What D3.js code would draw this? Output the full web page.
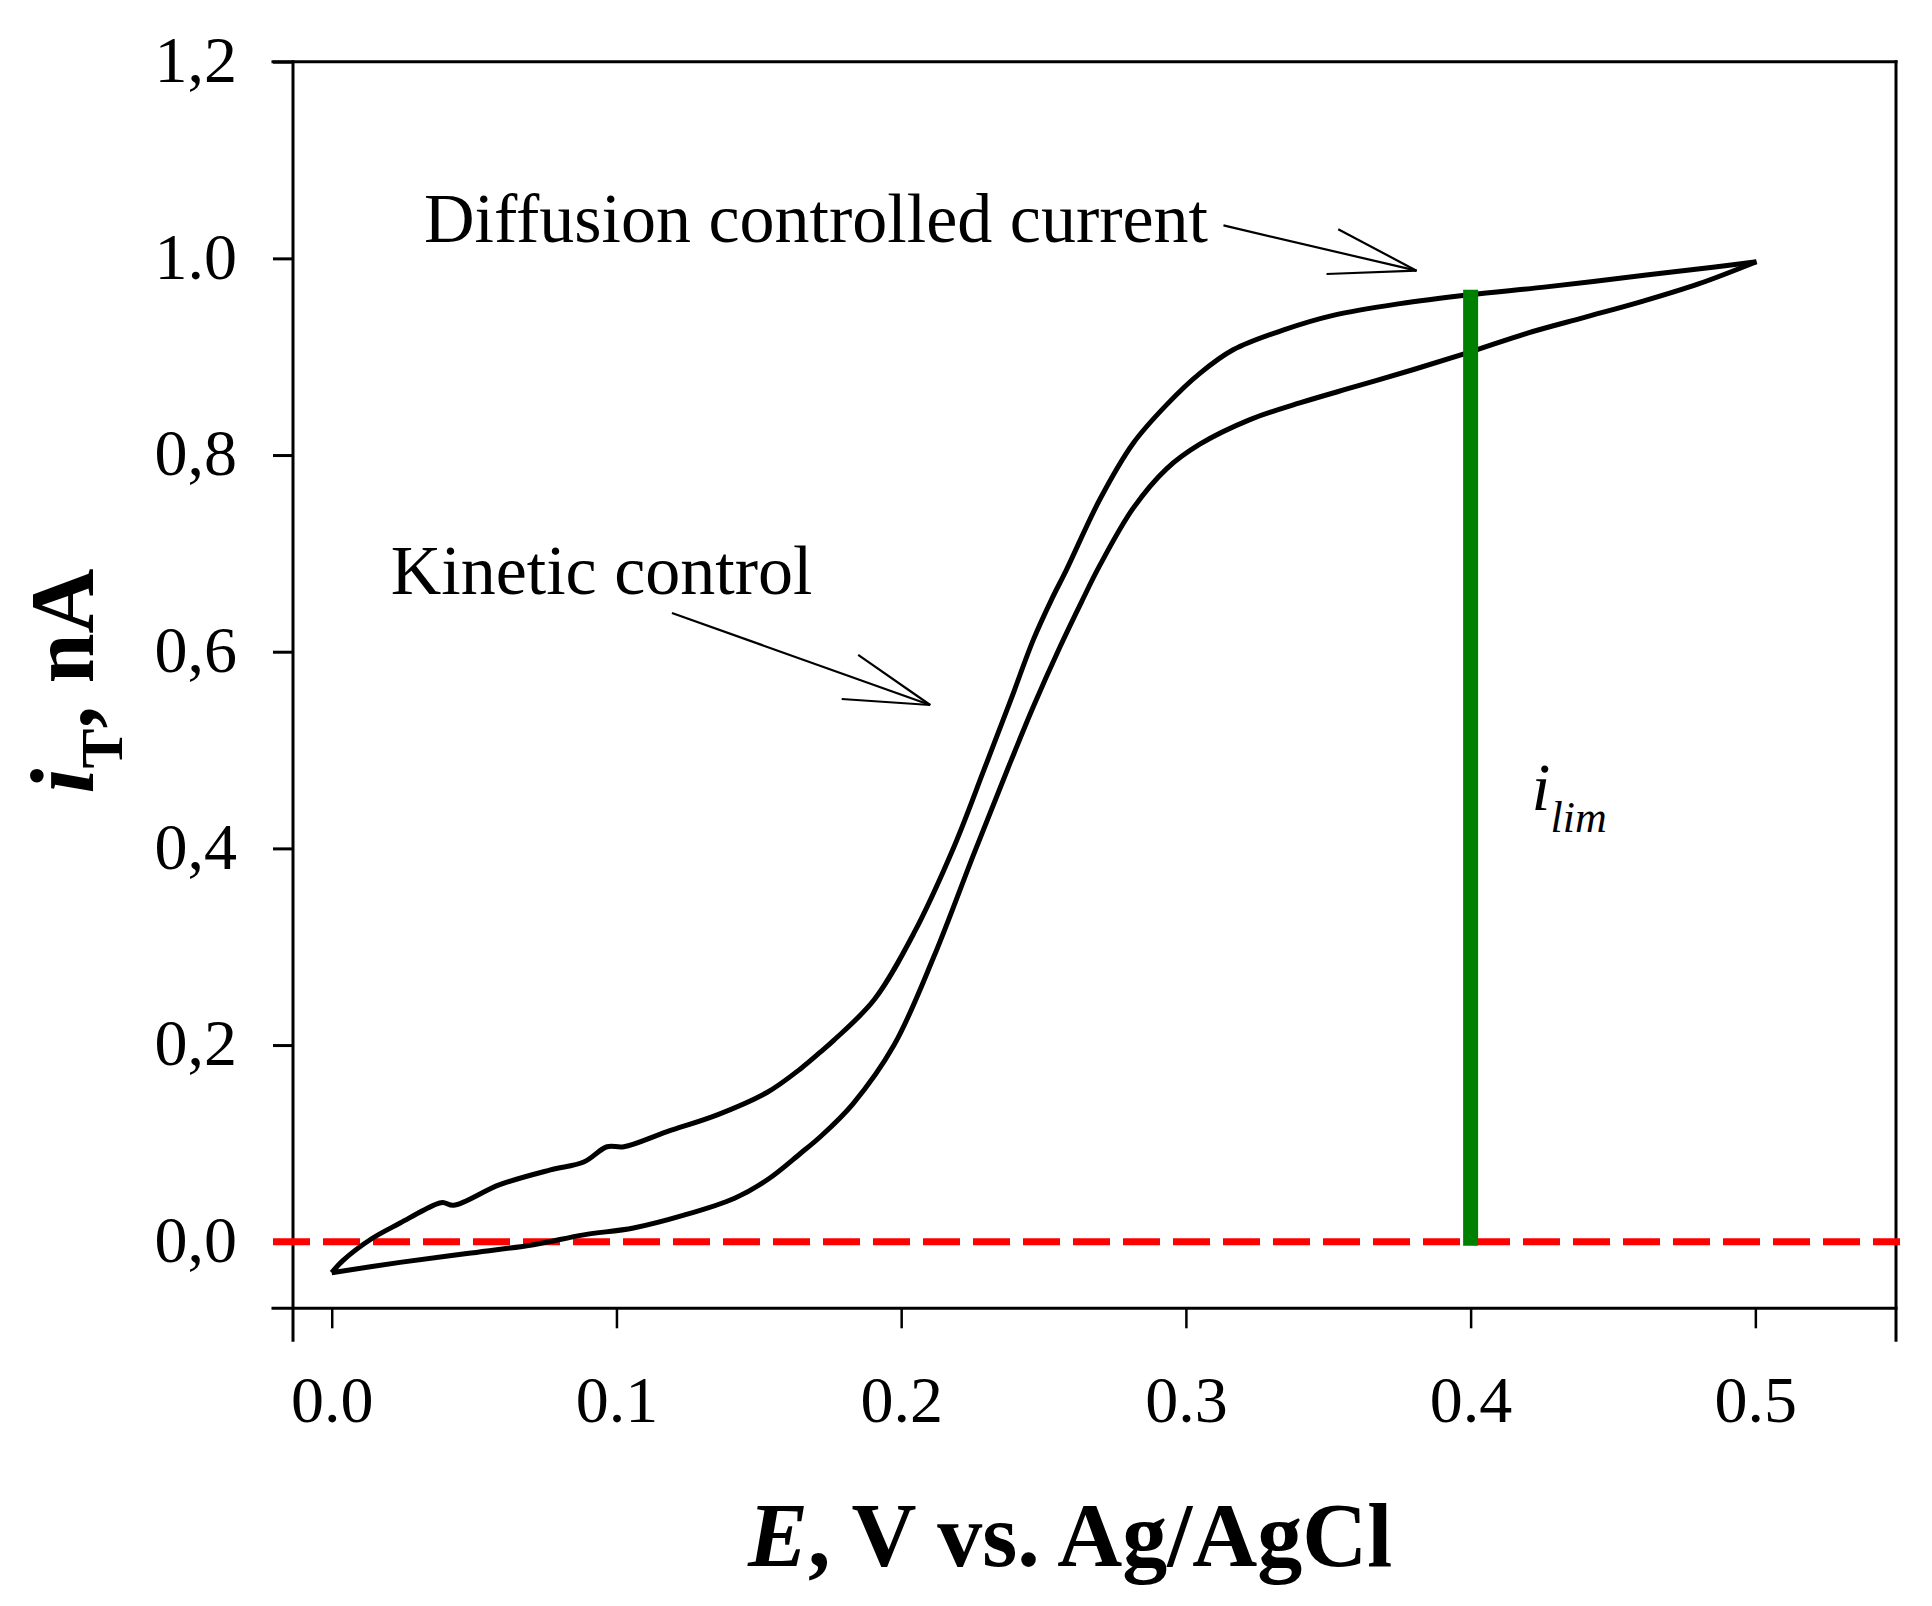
<!DOCTYPE html>
<html><head><meta charset="utf-8">
<script src="https://cdn.jsdelivr.net/npm/d3@7"></script>
<style>body{margin:0;background:#fff} text{font-family:"Liberation Serif","Times New Roman",serif;fill:#000}</style>
</head><body><svg id="c" width="1932" height="1606"></svg>
<script>
// Forward scan (lower branch), E in V, current in nA
const forwardE = [0.000,0.024,0.0475,0.0709,0.0885,0.106,0.1237,0.1413,0.153,0.1647,0.1717,0.183,0.1975,0.2115,0.2256,0.2373,0.2464,0.2558,0.2634,0.2698,0.2815,0.2932,0.3049,0.3225,0.340,0.360,0.380,0.400,0.420,0.440,0.460,0.480,0.5004];
const forwardI = [-0.0315,-0.021,-0.012,-0.003,0.007,0.014,0.027,0.044,0.063,0.090,0.107,0.140,0.200,0.290,0.395,0.480,0.544,0.605,0.651,0.688,0.746,0.786,0.811,0.836,0.853,0.870,0.887,0.905,0.924,0.940,0.956,0.974,0.9966];
// Reverse scan (upper branch)
const reverseE = [0.5004,0.4851,0.4617,0.4266,0.3997,0.3752,0.3517,0.3341,0.3166,0.3049,0.2932,0.2815,0.2698,0.258,0.2528,0.2464,0.2385,0.2291,0.2186,0.2045,0.1905,0.1764,0.1717,0.1647,0.153,0.1354,0.1178,0.1026,0.0967,0.0885,0.0768,0.059,0.0428,0.039,0.0357,0.024,0.014,0.004,0.000];
const reverseI = [0.9966,0.991,0.983,0.971,0.963,0.954,0.942,0.927,0.907,0.883,0.851,0.812,0.755,0.683,0.653,0.612,0.551,0.480,0.402,0.314,0.246,0.205,0.193,0.176,0.152,0.129,0.112,0.0966,0.0966,0.081,0.073,0.058,0.037,0.040,0.037,0.019,0.003,-0.019,-0.0315];

const xTicks = [0,0.1,0.2,0.3,0.4,0.5];
const xTickLabels = ["0.0","0.1","0.2","0.3","0.4","0.5"];
const yTicks = [0,0.2,0.4,0.6,0.8,1.0,1.2];
const yTickLabels = ["0,0","0,2","0,4","0,6","0,8","1.0","1,2"];

const xDomain = [-0.0136, 0.5494];
const yDomain = [-0.0677, 1.2];

const limE = 0.4, limTop = 0.968, limBottom = -0.004;
const zeroLevel = 0;

// annotation arrows: [tail, tip, barb1, barb2] in data coords
const arrowDiffusion = [[0.3132,1.0335],[0.3810,0.9875],[0.3535,1.0296],[0.3494,0.9841]];
const arrowKinetic = [[0.1195,0.6394],[0.2102,0.5458],[0.1849,0.5967],[0.1791,0.5519]];
const labelDiffusion = {text:"Diffusion controlled current", E:0.0324, I:1.017};
const labelKinetic = {text:"Kinetic control", E:0.0207, I:0.6587};
const labelLim = {E:0.4214, I:0.439};

const svg = d3.select("#c");
svg.append("rect").attr("width",1932).attr("height",1606).attr("fill","#fff");

const L=293, R=1896, T=61.7, B=1308.3;
const x = d3.scaleLinear().domain(xDomain).range([L,R]);
const y = d3.scaleLinear().domain(yDomain).range([B,T]);

// frame
const frame = svg.append("g").attr("stroke","#000").attr("stroke-width",3).attr("stroke-linecap","square");
frame.append("line").attr("x1",L-20).attr("x2",R).attr("y1",T).attr("y2",T);
frame.append("line").attr("x1",L-20).attr("x2",R).attr("y1",B).attr("y2",B);
frame.append("line").attr("x1",L).attr("x2",L).attr("y1",T).attr("y2",B+32);
frame.append("line").attr("x1",R).attr("x2",R).attr("y1",T).attr("y2",B+32);

// axes
const gx = svg.append("g").attr("transform",`translate(0,${B})`)
  .call(d3.axisBottom(x).tickValues(xTicks).tickFormat((d,i)=>xTickLabels[i]).tickSize(20).tickSizeOuter(0));
gx.select(".domain").remove();
gx.selectAll(".tick line").attr("stroke","#000").attr("stroke-width",2.5);
gx.selectAll(".tick text").attr("y",114).attr("dy",0)
  .style("font-family",'"Liberation Serif","Times New Roman",serif').style("font-size","66px").attr("fill","#000");

const gy = svg.append("g").attr("transform",`translate(${L},0)`)
  .call(d3.axisLeft(y).tickValues(yTicks).tickFormat((d,i)=>yTickLabels[i]).tickSize(20).tickSizeOuter(0));
gy.select(".domain").remove();
gy.selectAll(".tick line").attr("stroke","#000").attr("stroke-width",3);
gy.selectAll(".tick text").attr("x",-56).attr("dy","0.3em")
  .style("font-family",'"Liberation Serif","Times New Roman",serif').style("font-size","66px").attr("fill","#000");

// zero line (red dashed)
svg.append("line").attr("x1",L-20).attr("x2",R+4).attr("y1",y(zeroLevel)).attr("y2",y(zeroLevel))
  .attr("stroke","#ff0000").attr("stroke-width",7).attr("stroke-dasharray","37 13");

// curves
const line = d3.line().x(d=>x(d[0])).y(d=>y(d[1])).curve(d3.curveCatmullRom.alpha(0.5));
const fwd = forwardE.map((e,i)=>[e,forwardI[i]]);
const rev = reverseE.map((e,i)=>[e,reverseI[i]]);
svg.append("path").attr("d",line(fwd)).attr("fill","none").attr("stroke","#000").attr("stroke-width",5).attr("stroke-linejoin","round");
svg.append("path").attr("d",line(rev)).attr("fill","none").attr("stroke","#000").attr("stroke-width",5).attr("stroke-linejoin","round");

// green i_lim bar
svg.append("line").attr("x1",x(limE)).attr("x2",x(limE)).attr("y1",y(limBottom)).attr("y2",y(limTop))
  .attr("stroke","#008000").attr("stroke-width",15);

// arrows
function drawArrow(a){
  const g = svg.append("g").attr("stroke","#000").attr("stroke-width",2.2).attr("fill","none");
  const tip = a[1];
  [a[0],a[2],a[3]].forEach(p=>{
    g.append("line").attr("x1",x(p[0])).attr("y1",y(p[1])).attr("x2",x(tip[0])).attr("y2",y(tip[1]));
  });
}
drawArrow(arrowDiffusion);
drawArrow(arrowKinetic);

// annotation text
svg.append("text").attr("x",x(labelDiffusion.E)).attr("y",y(labelDiffusion.I)).style("font-size","70px").text(labelDiffusion.text);
svg.append("text").attr("x",x(labelKinetic.E)).attr("y",y(labelKinetic.I)).style("font-size","70px").text(labelKinetic.text);
const lim = svg.append("text").attr("x",x(labelLim.E)).attr("y",y(labelLim.I)).style("font-style","italic");
lim.append("tspan").style("font-size","68px").text("i");
lim.append("tspan").style("font-size","44px").attr("dy",22).text("lim");

// axis titles
const xt = svg.append("text").attr("x",748).attr("y",1566).style("font-size","90px").style("font-weight","bold");
xt.append("tspan").style("font-style","italic").text("E");
xt.append("tspan").text(", V vs. Ag/AgCl");

const yt = svg.append("text").attr("transform","translate(93,681) rotate(-90)").attr("text-anchor","middle")
  .style("font-size","90px").style("font-weight","bold");
yt.append("tspan").style("font-style","italic").text("i");
yt.append("tspan").style("font-size","60px").attr("dy",29).text("T");
yt.append("tspan").attr("dy",-29).text(", nA");
</script>
</body></html>
